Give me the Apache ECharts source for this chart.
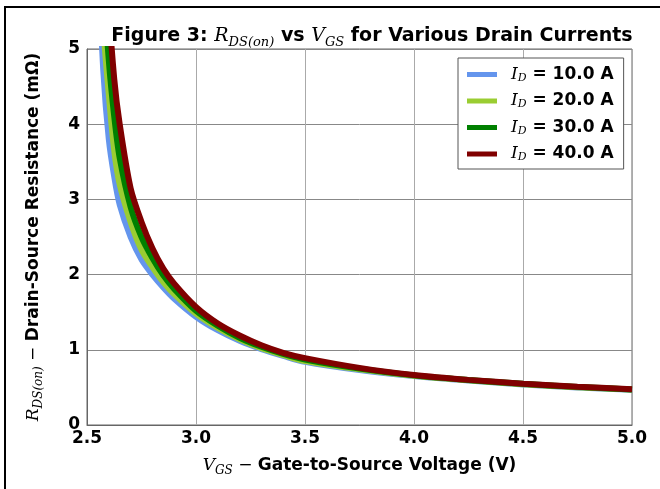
<!DOCTYPE html>
<html>
<head>
<meta charset="utf-8">
<script src="https://cdn.jsdelivr.net/npm/echarts@6/dist/echarts.min.js"></script>
<style>
  html, body { margin: 0; padding: 0; background: #fff; }
  #chart { width: 660px; height: 489px; }
</style>
</head>
<body>
<div id="chart"></div>
<script>
// gate voltage samples (V)
var vgs = [2.55, 2.575, 2.6, 2.625, 2.65, 2.7, 2.75, 2.8, 2.85, 2.9, 3.0, 3.1, 3.2, 3.3, 3.4, 3.5, 3.75, 4.0, 4.25, 4.5, 4.75, 5.0];
// RDS(on) in mOhm
var rds10 = [6.3, 4.7, 3.8, 3.3, 2.93, 2.5, 2.2, 2.0, 1.83, 1.68, 1.44, 1.26, 1.12, 1.01, 0.92, 0.84, 0.73, 0.65, 0.59, 0.54, 0.50, 0.47];
var rds20 = [7.2, 5.3, 4.4, 3.65, 3.2, 2.7, 2.33, 2.1, 1.9, 1.74, 1.48, 1.29, 1.14, 1.02, 0.93, 0.85, 0.74, 0.655, 0.595, 0.543, 0.503, 0.471];
var rds30 = [8.4, 6.0, 4.85, 4.1, 3.55, 2.9, 2.5, 2.22, 1.99, 1.81, 1.52, 1.32, 1.16, 1.04, 0.945, 0.87, 0.75, 0.66, 0.598, 0.547, 0.507, 0.473];
var rds40 = [10.0, 7.3, 5.6, 4.6, 4.0, 3.15, 2.7, 2.35, 2.08, 1.88, 1.57, 1.35, 1.19, 1.06, 0.96, 0.89, 0.76, 0.665, 0.60, 0.55, 0.51, 0.475];
var currents = ['10.0', '20.0', '30.0', '40.0'];
var colors = ['#6495ED', '#9ACD32', '#008000', '#800000'];
var xTicks = [2.5, 3.0, 3.5, 4.0, 4.5, 5.0];
var yTicks = [0, 1, 2, 3, 4, 5];

var curves = [rds10, rds20, rds30, rds40];

var sans = 'DejaVu Sans';
var serif = 'DejaVu Serif';

function makeRich(size) {
    var sub = Math.round(size * 0.68);
    return {
        b: { fontFamily: sans, fontWeight: 'bold', fontSize: size, color: '#000', lineHeight: size + 6 },
        m: { fontFamily: serif, fontStyle: 'italic', fontWeight: 'normal', fontSize: size, color: '#000', lineHeight: size + 6 },
        s: { fontFamily: serif, fontStyle: 'italic', fontWeight: 'normal', fontSize: sub, color: '#000', lineHeight: sub + 2, verticalAlign: 'bottom' },
        o: { fontFamily: serif, fontWeight: 'normal', fontSize: size, color: '#000', lineHeight: size + 6 }
    };
}

function pairs(ys) {
    var out = [];
    for (var i = 0; i < vgs.length; i++) {
        out.push([vgs[i], ys[i]]);
    }
    return out;
}

var series = [];
for (var k = 0; k < currents.length; k++) {
    series.push({
        name: 'I_D = ' + currents[k] + ' A',
        type: 'line',
        data: pairs(curves[k]),
        smooth: 0.3,
        showSymbol: false,
        clip: true,
        color: colors[k],
        lineStyle: { width: 6, color: colors[k] }
    });
}

var myChart = echarts.init(document.getElementById('chart'));
var option = {
    backgroundColor: '#fff',
    animation: false,
    grid: {
        left: 87, right: 28, top: 49, bottom: 64,
        show: true, borderColor: '#666', borderWidth: 1
    },
    graphic: [
        {
            type: 'rect',
            shape: { x: 5, y: 7, width: 800, height: 700 },
            style: { fill: 'none', stroke: '#000', lineWidth: 2 },
            silent: true
        },
        {
            type: 'text',
            x: 372, y: 24,
            style: {
                text: '{b|Figure 3: }{m|R}{s|DS(on)}{b| vs }{m|V}{s|GS}{b| for Various Drain Currents}',
                rich: makeRich(19),
                align: 'center'
            }
        }
    ],
    legend: {
        orient: 'vertical',
        left: 458, top: 58,
        padding: [8, 10, 6, 9],
        itemGap: 9,
        itemWidth: 30,
        itemHeight: 5,
        icon: 'rect',
        backgroundColor: '#fff',
        borderColor: '#555',
        borderWidth: 1,
        borderRadius: 0,
        data: series.map(function (s) { return s.name; }),
        formatter: function (name) {
            var amps = name.split('= ')[1];
            return '{m|I}{s|D}{b| = ' + amps + '}';
        },
        textStyle: {
            rich: {
                b: { fontFamily: sans, fontWeight: 'bold', fontSize: 17, color: '#000', lineHeight: 18 },
                m: { fontFamily: serif, fontStyle: 'italic', fontSize: 17, color: '#000', lineHeight: 18, padding: [0, 0, 0, 9] },
                s: { fontFamily: serif, fontStyle: 'italic', fontSize: 11, color: '#000', lineHeight: 11, verticalAlign: 'bottom' }
            }
        }
    },
    xAxis: {
        type: 'value',
        min: xTicks[0], max: xTicks[xTicks.length - 1], interval: 0.5,
        axisLine: { show: true, lineStyle: { color: '#666' } },
        axisTick: { show: false },
        splitLine: { show: true, lineStyle: { color: '#aaa', width: 1 } },
        axisLabel: {
            margin: 5,
            fontFamily: sans, fontWeight: 'bold', fontSize: 17, color: '#000',
            formatter: function (v) { return v.toFixed(1); }
        },
        name: '{m|V}{s|GS}{o| − }{b|Gate-to-Source Voltage (V)}',
        nameLocation: 'middle',
        nameGap: 29,
        nameTextStyle: { rich: makeRich(17) }
    },
    yAxis: {
        type: 'value',
        min: yTicks[0], max: yTicks[yTicks.length - 1], interval: 1,
        axisLine: { show: true, lineStyle: { color: '#666' } },
        axisTick: { show: false },
        splitLine: { show: true, lineStyle: { color: '#888', width: 1 } },
        axisLabel: {
            margin: 7,
            fontFamily: sans, fontWeight: 'bold', fontSize: 17, color: '#000'
        },
        name: '{m|R}{s|DS(on)}{o| − }{b|Drain-Source Resistance (mΩ)}',
        nameLocation: 'middle',
        nameGap: 42,
        nameTextStyle: { rich: makeRich(17) }
    },
    series: series
};
myChart.setOption(option);
</script>
</body>
</html>
